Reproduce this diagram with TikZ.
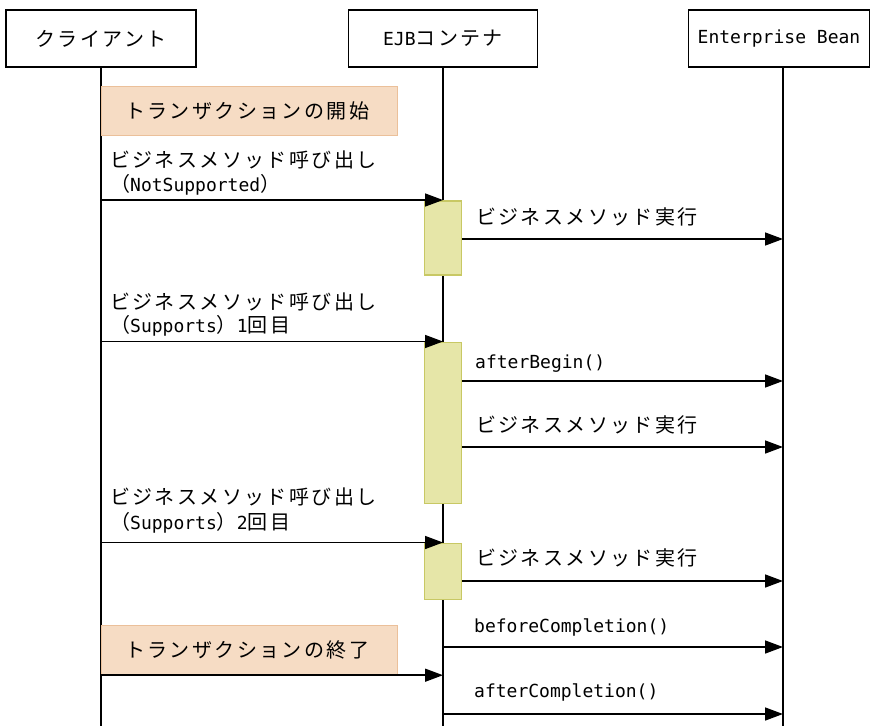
\documentclass[tikz,border=0pt]{standalone}
\usepackage{fontspec}
\setmainfont{Noto Sans CJK JP}[LetterSpace=12]
\newfontfamily\lat{DejaVu Sans Mono}
\usetikzlibrary{arrows.meta}
\definecolor{txnfill}{HTML}{F6DCC4}
\definecolor{txnline}{HTML}{EBC09A}
\definecolor{actfill}{HTML}{E6E6A8}
\definecolor{actline}{HTML}{C8C864}
\newcommand{\jpsize}{\fontsize{20}{22}\selectfont}
\newcommand{\lt}[1]{{\lat\fontsize{18}{20}\selectfont #1}}
\begin{document}
\begin{tikzpicture}[x=1pt,y=-1pt,
  head/.style={draw, line width=1.4pt, minimum height=57pt, inner sep=0pt, font=\jpsize},
  life/.style={line width=1.5pt},
  act/.style={draw=actline, fill=actfill, line width=1.5pt, minimum width=37pt, inner sep=0pt, anchor=north},
  txn/.style={draw=txnline, fill=txnfill, line width=1.2pt, minimum width=296pt, minimum height=49pt, inner sep=0pt, anchor=north west},
  msg/.style={line width=1.5pt, -{Triangle[length=18pt,width=13pt]}},
  lbl/.style={anchor=west, inner sep=0pt, font=\jpsize}]
\useasboundingbox (0,0) rectangle (870,726);
% headers
\node[head, minimum width=190pt] (cl) at (101,38.5) {クライアント};
\node[head, minimum width=189pt] (ej) at (443,38.5) {\lt{EJB}コンテナ};
\node[head, minimum width=181pt] (eb) at (779,38.5) {\lt{Enterprise Bean}};
\coordinate (bot) at (0,726);
\draw[life] (cl.south) -- (cl.south |- bot);
\draw[life] (ej.south) -- (ej.south |- bot);
\coordinate (ebx) at (783,0);
\draw[life] (eb.south -| ebx) -- (ebx |- bot);
% transaction start
\node[txn] (ts) at (101,86) {};
\node[lbl] (tsl) at ([xshift=24pt]ts.west) {トランザクションの開始};
% message 1
\node[lbl] (m1a) at (110,160) {ビジネスメソッド呼び出し};
\node[lbl] (m1b) at (110,185) {（\lt{NotSupported}）};
\node[act, minimum height=74pt] (a1) at (443,200) {};
\draw[msg] (cl |- a1.north) -- (ej |- a1.north);
\coordinate (r1) at (0,239);
\draw[msg] (a1.east |- r1) -- (ebx |- r1);
\node[lbl] (r1l) at (476,217) {ビジネスメソッド実行};
% message 2
\node[lbl] (m2a) at (110,302) {ビジネスメソッド呼び出し};
\node[lbl] (m2b) at (110,326) {（\lt{Supports}）\lt{1}回目};
\node[act, minimum height=161pt] (a2) at (443,341.5) {};
\draw[msg] (cl |- a2.north) -- (ej |- a2.north);
\coordinate (r2) at (0,381);
\draw[msg] (a2.east |- r2) -- (ebx |- r2);
\node[lbl] (r2l) at (475,364) {\lt{afterBegin()}};
\coordinate (r3) at (0,447);
\draw[msg] (a2.east |- r3) -- (ebx |- r3);
\node[lbl] (r3l) at (476,425) {ビジネスメソッド実行};
% message 3
\node[lbl] (m3a) at (110,497) {ビジネスメソッド呼び出し};
\node[lbl] (m3b) at (110,523) {（\lt{Supports}）\lt{2}回目};
\node[act, minimum height=56pt] (a3) at (443,542.5) {};
\draw[msg] (cl |- a3.north) -- (ej |- a3.north);
\coordinate (r4) at (0,581);
\draw[msg] (a3.east |- r4) -- (ebx |- r4);
\node[lbl] (r4l) at (476,558) {ビジネスメソッド実行};
% completion
\coordinate (r5) at (0,647);
\draw[msg] (ej |- r5) -- (ebx |- r5);
\node[lbl] (r5l) at (474,627) {\lt{beforeCompletion()}};
\node[txn] (te) at (101,625) {};
\node[lbl] (tel) at ([xshift=24pt]te.west) {トランザクションの終了};
\draw[msg] (te.south west) -- (ej |- te.south);
\coordinate (r6) at (0,714);
\draw[msg] (ej |- r6) -- (ebx |- r6);
\node[lbl] (r6l) at (474,692) {\lt{afterCompletion()}};
\end{tikzpicture}
\end{document}
